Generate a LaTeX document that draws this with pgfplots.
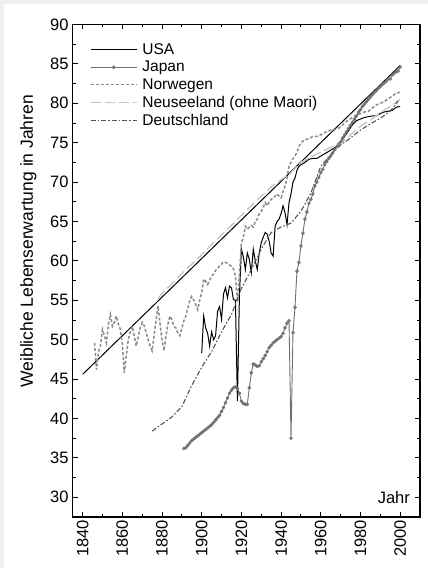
\documentclass[border=0pt]{standalone}
\usepackage{fontspec}
\setmainfont{Liberation Sans}
\usepackage{pgfplots}
\pgfplotsset{compat=1.18}

\definecolor{norcol}{HTML}{8A8A8A}
\definecolor{nzcol}{HTML}{C6C6C6}
\definecolor{gercol}{HTML}{555555}
\definecolor{jpcol}{HTML}{707070}

\begin{document}
\begin{tikzpicture}
% page background: light grey strip at top and left, white panel
\fill[black!6] (-72.7bp,-51bp) rectangle (355.3bp,517bp);
\fill[white] (-68.7bp,-51bp) rectangle (355.3bp,513bp);
\begin{axis}[
  scale only axis,
  width=347.3bp, height=492.5bp,
  xmin=1835, xmax=2010,
  ymin=27.5, ymax=90,
  xtick={1840,1860,...,2000},
  ytick={30,35,...,90},
  minor x tick num=1,
  minor y tick num=1,
  tick pos=both,
  tick align=inside,
  major tick length=5bp,
  minor tick length=3bp,
  axis line style={line width=1.1bp},
  every tick/.style={black, line width=0.9bp},
  /pgf/number format/1000 sep={},
  /pgf/number format/assume math mode=true,
  tick label style={font=\fontsize{16.5bp}{18bp}\selectfont},
  xticklabel style={rotate=90, anchor=east, inner sep=3bp},
  yticklabel style={inner sep=4bp},
  ylabel={Weibliche Lebenserwartung in Jahren},
  ylabel style={font=\fontsize{17.5bp}{19bp}\selectfont, at={(axis description cs:-0.128,0.56)}, anchor=center},
  legend cell align=left,
  legend style={draw=none, fill=none, at={(rel axis cs:0,1)}, anchor=north west,
    xshift=17bp, yshift=-19bp, inner sep=0pt, row sep=5.2bp, column sep=0pt,
    font=\fontsize{15.5bp}{17bp}\selectfont,
    nodes={inner xsep=5bp, inner ysep=0pt}},
  legend image code/.code={\draw[mark repeat=2, mark phase=2, #1] plot coordinates {(0bp,0bp) (23bp,0bp) (46bp,0bp)};},
]

% straight trend line
\addplot[black, line width=1bp, forget plot] coordinates {(1840,45.6) (2000,84.8)};

% USA
\addplot[black, line width=1bp] coordinates {
(1900,48.3) (1901,53.0) (1902,51.5) (1903,50.8) (1904,49.2) (1905,51.0) (1906,50.0)
(1907,50.5) (1908,53.6) (1909,54.2) (1910,52.6) (1911,55.8) (1912,56.6) (1913,55.3)
(1914,56.8) (1915,56.6) (1916,55.1) (1917,55.0) (1918,42.2) (1919,55.5) (1920,61.5)
(1921,60.5) (1922,58.9) (1923,61.0) (1924,60.2) (1925,58.5) (1926,61.5) (1927,60.0)
(1928,58.9) (1929,61.0) (1930,62.3) (1931,63.0) (1932,63.6) (1933,63.4) (1934,62.5)
(1935,61.0) (1936,60.6) (1937,64.4) (1938,65.0) (1939,65.3) (1940,66.0) (1941,67.0)
(1942,66.1) (1943,64.6) (1944,67.4) (1945,68.5) (1946,70.0) (1947,70.5) (1948,71.5)
(1949,72.0) (1950,72.2) (1952,72.5) (1954,72.9) (1956,73.0) (1958,73.0) (1960,73.3)
(1962,73.6) (1964,73.9) (1966,74.2) (1968,74.5) (1970,75.0) (1972,75.8) (1974,76.5)
(1976,77.3) (1978,77.8) (1980,78.0) (1982,78.2) (1984,78.3) (1986,78.4) (1988,78.4)
(1990,78.7) (1992,78.9) (1994,79.0) (1996,79.1) (1998,79.5) (2000,79.6)
};
\addlegendentry{USA}

% Japan
\addplot[jpcol, line width=0.9bp, mark=o, mark size=1.3bp, mark options={solid, fill=white}] coordinates {
(1891,36.2) (1892,36.3) (1893,36.6) (1894,36.9) (1895,37.2) (1896,37.4) (1897,37.6)
(1898,37.8) (1899,38.0) (1900,38.2) (1901,38.4) (1902,38.6) (1903,38.8) (1904,39.0)
(1905,39.2) (1906,39.5) (1907,39.8) (1908,40.1) (1909,40.4) (1910,40.9) (1911,41.4)
(1912,42.0) (1913,42.6) (1914,43.2) (1915,43.6) (1916,43.9) (1917,44.0) (1918,43.8)
(1919,43.2) (1920,42.2) (1921,41.9) (1922,41.8) (1923,41.8) (1924,43.9) (1925,45.8)
(1926,46.9) (1927,46.8) (1928,46.6) (1929,46.7) (1930,47.2) (1931,47.6) (1932,48.0)
(1933,48.5) (1934,49.0) (1935,49.3) (1936,49.6) (1937,49.8) (1938,50.0) (1939,50.2)
(1940,50.4) (1941,50.8) (1942,51.5) (1943,52.1) (1944,52.4) (1945,37.5) (1946,50.9)
(1947,54.1) (1948,58.7) (1949,59.8) (1950,61.9) (1951,63.5) (1952,65.3) (1953,66.2)
(1954,67.3) (1955,67.8) (1956,68.5) (1957,69.5) (1958,70.0) (1959,70.6) (1960,71.2)
(1961,71.6) (1962,72.2) (1963,72.6) (1964,73.0) (1965,73.3) (1966,73.7) (1967,74.1)
(1968,74.5) (1969,74.8) (1970,75.1) (1971,75.6) (1972,76.0) (1973,76.4) (1974,76.8)
(1975,77.2) (1976,77.6) (1977,78.0) (1978,78.4) (1979,78.9) (1980,79.2) (1981,79.6)
(1982,79.9) (1983,80.2) (1984,80.5) (1985,80.8) (1986,81.1) (1987,81.4) (1988,81.6)
(1989,81.9) (1990,82.1) (1991,82.4) (1992,82.6) (1993,82.8) (1994,83.1) (1995,83.1)
(1996,83.6) (1997,83.8) (1998,84.0) (1999,84.1) (2000,84.6)
};
\addlegendentry{Japan}

% Norway
\addplot[norcol, line width=1.5bp, dash pattern=on 3bp off 2bp] coordinates {
(1846,49.6) (1847,46.2) (1848,48.5) (1849,49.2) (1850,51.3) (1851,50.5) (1852,49.6)
(1853,52.0) (1854,53.2) (1855,51.7) (1856,52.2) (1857,53.0) (1858,52.0) (1859,51.3)
(1860,49.5) (1861,45.8) (1862,48.0) (1863,50.0) (1864,51.0) (1865,51.7) (1866,50.5)
(1867,49.2) (1868,50.3) (1869,51.5) (1870,52.2) (1871,51.8) (1872,50.9) (1873,50.0)
(1874,49.2) (1875,48.6) (1876,50.5) (1877,52.5) (1878,54.3) (1879,52.0) (1880,50.0)
(1881,48.6) (1882,50.5) (1883,52.0) (1884,53.0) (1885,52.5) (1886,51.7) (1887,51.5)
(1888,50.8) (1889,50.5) (1890,51.5) (1891,52.4) (1892,53.0) (1893,54.0) (1894,55.0)
(1895,55.5) (1896,55.0) (1897,54.5) (1898,53.8) (1899,55.0) (1900,56.0) (1901,57.7)
(1902,57.4) (1903,57.0) (1904,57.5) (1905,58.1) (1906,58.3) (1907,58.8) (1908,59.0)
(1909,59.4) (1910,59.6) (1911,59.9) (1912,59.8) (1913,59.7) (1914,59.5) (1915,59.3)
(1916,59.0) (1917,58.1) (1918,54.8) (1919,58.3) (1920,62.3) (1921,63.0) (1922,64.4)
(1923,64.0) (1924,64.3) (1925,64.5) (1926,64.3) (1927,65.0) (1928,65.3) (1929,66.0)
(1930,66.3) (1931,66.8) (1932,67.4) (1933,67.0) (1934,67.5) (1935,67.8) (1936,68.0)
(1937,68.2) (1938,68.5) (1939,68.2) (1940,68.0) (1941,68.8) (1942,69.5) (1943,70.5)
(1944,72.0) (1945,72.5) (1946,73.0) (1947,73.3) (1948,73.8) (1949,74.5) (1950,75.0)
(1952,75.4) (1954,75.5) (1956,75.8) (1958,75.8) (1960,76.0) (1962,76.3) (1964,76.5)
(1966,76.7) (1968,76.7) (1970,77.0) (1972,77.5) (1974,77.9) (1976,78.2) (1978,78.5)
(1980,78.7) (1982,78.9) (1984,79.0) (1986,79.4) (1988,79.8) (1990,80.0) (1992,80.2)
(1994,80.6) (1996,80.9) (1998,81.3) (2000,81.4)
};
\addlegendentry{Norwegen}

% New Zealand (non-Maori)
\addplot[nzcol, line width=1.4bp, dash pattern=on 10bp off 4bp] coordinates {
(1878,55.2) (1880,55.9) (1885,57.1) (1890,58.4) (1895,59.6) (1900,60.8) (1905,62.1)
(1910,63.3) (1915,64.5) (1920,65.8) (1925,67.0) (1930,68.2) (1935,69.4) (1940,70.3)
(1945,71.2) (1950,72.5) (1955,73.2) (1960,73.8) (1965,74.4) (1970,74.9) (1975,76.0)
(1980,77.1) (1985,77.9) (1990,78.8) (1995,79.6) (2000,80.5)
};
\addlegendentry{Neuseeland (ohne Maori)}

% Germany
\addplot[gercol, line width=1.1bp, dash pattern=on 5bp off 2bp on 1.5bp off 2bp] coordinates {
(1875,38.4) (1880,39.3) (1885,40.2) (1890,41.5) (1895,44.2) (1900,46.5) (1905,48.5)
(1910,51.0) (1915,53.2) (1920,56.5) (1925,58.9) (1930,61.5) (1935,63.6) (1940,64.3)
(1945,64.8) (1950,66.3) (1955,68.6) (1960,72.0) (1965,73.5) (1970,74.7) (1975,75.6)
(1980,76.6) (1985,77.4) (1990,78.1) (1995,79.0) (1999,80.3)
};
\addlegendentry{Deutschland}

\node[anchor=east, font=\fontsize{16.5bp}{18bp}\selectfont, inner sep=0pt] at (axis cs:2005,30) {Jahr};
\end{axis}
\pgfresetboundingbox
\useasboundingbox (-72.7bp,-51bp) rectangle (355.3bp,517bp);
\end{tikzpicture}
\end{document}
